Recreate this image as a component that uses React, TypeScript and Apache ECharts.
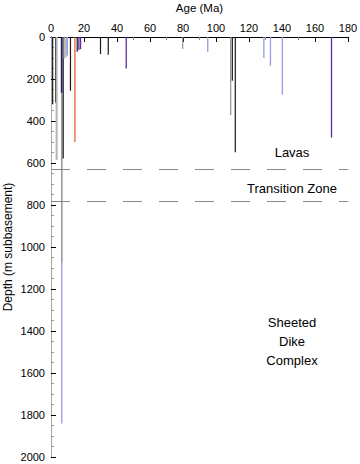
import React, { useEffect, useRef } from "react";
import * as echarts from "echarts";

// Age (Ma) of each dated sample, depth (m subbasement) reached, colour class
const ages = [0.4, 1.0, 2.8, 3.4, 6.5, 6.5, 6.4, 7.4, 7.9, 9.1, 9.9, 11.8, 14.5, 15.9, 16.9, 17.9, 30, 34.7, 45.6, 79.8, 95, 108.9, 109.9, 111.7, 129, 133, 140.2, 170];
const depths = [52, 320, 312, 585, 1840, 1075, 266, 578, 103, 96, 88, 256, 500, 70, 62, 58, 81, 85, 150, 57, 72, 371, 208, 549, 100, 137, 275, 479];
const kinds = ["blue", "black", "black", "lightgray", "blue", "gray", "navy", "black", "gray", "gray", "blue", "black", "red", "black", "purple", "purple", "black", "black", "purple", "gray", "blue", "gray", "black", "black", "blue", "blue", "blue", "purple"];

const xTicks = { min: 0, max: 180, interval: 20 };
const yTicks = { min: 0, max: 2000, interval: 200 };
const zoneBoundaries = [629, 781];

const colorMap: Record<string, string> = {
  black: "#1a1a1a",
  gray: "#9a9a9a",
  lightgray: "#b4b4b4",
  blue: "#9a9ae0",
  navy: "#1c1c78",
  red: "#f0623a",
  purple: "#5e2e9e",
};
const widthMap: Record<string, number> = {
  black: 1.2,
  gray: 1.3,
  lightgray: 2,
  blue: 1.3,
  navy: 1.5,
  red: 1.3,
  purple: 1.3,
};

const FONT = "'Liberation Sans', Arial, Helvetica, sans-serif";

export default function App() {
  const ref = useRef<HTMLDivElement>(null);
  useEffect(() => {
    document.body.style.margin = "0";
    const chart = echarts.init(ref.current!, null, { renderer: "svg" });
    const data = ages.map((a, i) => ({ value: [a, depths[i]], kind: kinds[i] }));
    chart.setOption({
      animation: false,
      textStyle: { fontFamily: FONT },
      grid: { left: 51, right: 12, top: 37, bottom: 7, containLabel: false, outerBoundsMode: "none" },
      xAxis: [
        {
          type: "value",
          position: "top",
          min: xTicks.min,
          max: xTicks.max,
          interval: xTicks.interval,
          name: "Age (Ma)",
          nameLocation: "middle",
          nameGap: 23,
          nameMoveOverlap: false,
          nameTextStyle: { fontSize: 11.5, color: "#000", fontFamily: FONT },
          axisLine: { lineStyle: { color: "#000", width: 1 } },
          axisTick: { inside: true, length: 5, lineStyle: { color: "#000" } },
          minorTick: { show: true, splitNumber: 2, length: 3, lineStyle: { color: "#888" } },
          axisLabel: { fontSize: 11, color: "#000", margin: 4, fontFamily: FONT, formatter: (v: number) => String(v) },
          splitLine: { show: false },
        },
        {
          type: "value",
          position: "bottom",
          min: xTicks.min,
          max: xTicks.max,
          axisLine: { show: true, lineStyle: { color: "#000", width: 1 } },
          axisTick: { show: false },
          axisLabel: { show: false },
          splitLine: { show: false },
        },
      ],
      yAxis: [
        {
          type: "value",
          inverse: true,
          min: yTicks.min,
          max: yTicks.max,
          interval: yTicks.interval,
          name: "Depth (m subbasement)",
          nameLocation: "middle",
          nameGap: 37,
          nameMoveOverlap: false,
          nameRotate: 90,
          nameTextStyle: { fontSize: 12, color: "#000", fontFamily: FONT },
          axisLine: { show: true, lineStyle: { color: "#000", width: 1 } },
          axisTick: { inside: true, length: 5, lineStyle: { color: "#000" } },
          minorTick: { show: true, splitNumber: 4, length: 3, lineStyle: { color: "#999" } },
          axisLabel: { fontSize: 11, color: "#000", margin: 6, fontFamily: FONT, formatter: (v: number) => String(v) },
          splitLine: { show: false },
        },
        {
          type: "value",
          inverse: true,
          position: "right",
          min: yTicks.min,
          max: yTicks.max,
          axisLine: { show: true, lineStyle: { color: "#aaa", width: 1 } },
          axisTick: { show: false },
          axisLabel: { show: false },
          splitLine: { show: false },
        },
      ],
      series: [
        {
          type: "custom",
          xAxisIndex: 0,
          yAxisIndex: 0,
          data,
          renderItem: (params: any, api: any) => {
            const a = api.value(0);
            const d = api.value(1);
            const p0 = api.coord([a, 0]);
            const p1 = api.coord([a, d]);
            const k = data[params.dataIndex].kind;
            return {
              type: "line",
              shape: { x1: p0[0], y1: p0[1], x2: p1[0], y2: p1[1] },
              style: { stroke: colorMap[k], lineWidth: widthMap[k] },
            };
          },
          markLine: {
            silent: true,
            symbol: "none",
            label: { show: false },
            lineStyle: { color: "#888", width: 1, type: [19, 17] },
            data: zoneBoundaries.map((v) => ({ yAxis: v })),
          },
        },
      ],
      graphic: [
        {
          type: "text",
          x: 292,
          y: 152,
          style: { text: "Lavas", fontSize: 13, fill: "#000", align: "center", verticalAlign: "middle", fontFamily: FONT },
        },
        {
          type: "text",
          x: 292,
          y: 188,
          style: { text: "Transition Zone", fontSize: 13, fill: "#000", align: "center", verticalAlign: "middle", fontFamily: FONT },
        },
        {
          type: "text",
          x: 292,
          y: 341,
          style: {
            text: "Sheeted\nDike\nComplex",
            fontSize: 13,
            lineHeight: 19,
            fill: "#000",
            align: "center",
            verticalAlign: "middle",
            fontFamily: FONT,
          },
        },
      ],
    });
    return () => chart.dispose();
  }, []);
  return <div ref={ref} style={{ width: 360, height: 464 }} />;
}
